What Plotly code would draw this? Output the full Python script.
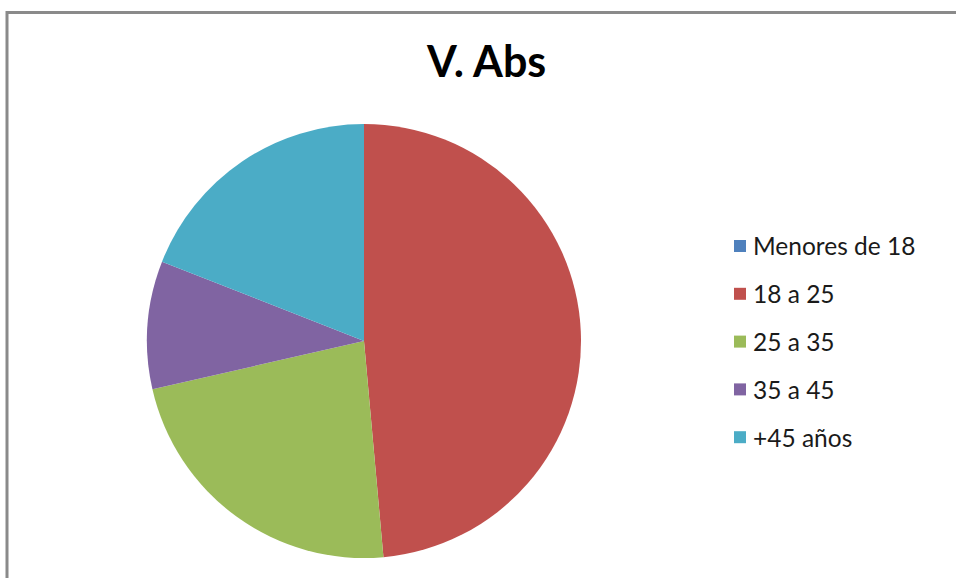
import plotly.graph_objects as go

labels = ["Menores de 18", "18 a 25", "25 a 35", "35 a 45", "+45 años"]
values = [0, 51, 24, 10, 20]
colors = ["#4F81BD", "#C0504D", "#9BBB59", "#8064A2", "#4BACC6"]
title_text = "V. Abs"

W, H = 956, 578


def px_x(x):
    return x / W


def px_y(y):
    return (H - y) / H


cx, cy, r = 364, 341, 217

fig = go.Figure()
fig.add_trace(go.Pie(
    labels=labels,
    values=values,
    sort=False,
    direction="clockwise",
    rotation=0,
    marker=dict(colors=colors, line=dict(width=0)),
    textinfo="none",
    hoverinfo="label+value+percent",
    showlegend=False,
    domain=dict(x=[px_x(cx - r), px_x(cx + r)], y=[px_y(cy + r), px_y(cy - r)]),
))

shapes = [
    dict(type="line", xref="paper", yref="paper", x0=px_x(6), x1=1.0,
         y0=px_y(12.5), y1=px_y(12.5), line=dict(color="#8a8a8a", width=3)),
    dict(type="line", xref="paper", yref="paper", x0=px_x(7), x1=px_x(7),
         y0=0, y1=px_y(11), line=dict(color="#8a8a8a", width=3)),
]
annotations = [
    dict(text="<b>" + title_text + "</b>", xref="paper", yref="paper",
         x=px_x(486), y=px_y(61), xanchor="center", yanchor="middle",
         showarrow=False, font=dict(family="Lato", size=43, color="#000000")),
]

row0, step = 246, 47.8
for i, (lab, col) in enumerate(zip(labels, colors)):
    yc = row0 + i * step
    shapes.append(dict(type="rect", xref="paper", yref="paper",
                       x0=px_x(734), x1=px_x(746), y0=px_y(yc + 6), y1=px_y(yc - 6),
                       fillcolor=col, line=dict(width=0)))
    annotations.append(dict(text=lab, xref="paper", yref="paper",
                            x=px_x(751), y=px_y(yc), xanchor="left", yanchor="middle",
                            showarrow=False,
                            font=dict(family="Lato", size=24.5, color="#1a1a1a")))

fig.update_layout(
    width=W, height=H,
    margin=dict(l=0, r=0, t=0, b=0),
    paper_bgcolor="white",
    plot_bgcolor="white",
    shapes=shapes,
    annotations=annotations,
)

fig.write_html(
    "out.html",
    config={"displayModeBar": False},
    post_script="document.body.style.margin='0';document.body.style.overflow='hidden';",
)
